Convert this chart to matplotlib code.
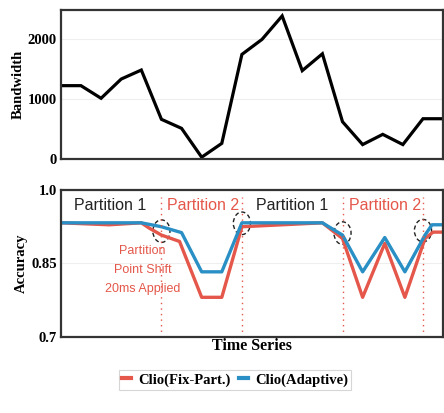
import matplotlib.pyplot as plt
from matplotlib.patches import Ellipse

# bandwidth trace, one sample per step
bw_x = list(range(20))
bw = [1220, 1220, 1010, 1330, 1480, 660, 510, 30, 260, 1740,
      1990, 2380, 1470, 1750, 620, 240, 410, 240, 670, 670]

# accuracy traces
fix_x = [0, 1.2, 2.4, 4, 4.4, 5, 5.9, 7, 8, 9, 13, 14, 15, 16.1, 17.1, 18.1, 18.5, 19]
fix_acc = [0.933, 0.931, 0.929, 0.933, 0.922, 0.908, 0.895, 0.781, 0.781, 0.925,
           0.933, 0.901, 0.781, 0.891, 0.781, 0.901, 0.914, 0.914]
ada_x = [0, 4, 5, 6, 7, 8, 9, 13, 14, 15, 16.1, 17.1, 18.1, 18.45, 19]
ada_acc = [0.933, 0.933, 0.925, 0.913, 0.833, 0.833, 0.933, 0.933, 0.908, 0.833,
           0.903, 0.833, 0.908, 0.929, 0.929]

shift_x = [5, 9, 14, 18]
shift_y = [0.916, 0.932, 0.912, 0.917]

part_labels = ["Partition 1", "Partition 2", "Partition 1", "Partition 2"]
part_x = [2.45, 7.05, 11.5, 16.1]

RED = "#e4574a"
BLUE = "#2a8fc4"
FRAME = "#333333"
serif = "Liberation Serif"
sans = "Liberation Sans"

fig = plt.figure(figsize=(4.44, 4.13), dpi=100)
ax1 = fig.add_axes([0.137, 0.615, 0.861, 0.361])
ax2 = fig.add_axes([0.137, 0.184, 0.861, 0.356])

# top: bandwidth
ax1.plot(bw_x, bw, color="black", lw=2.3, solid_joinstyle="miter")
ax1.set_xlim(0, 19)
ax1.set_ylim(0, 2480)
ax1.set_yticks([0, 1000, 2000])
ax1.set_ylabel("Bandwidth", family=serif, fontweight="bold", fontsize=10.5, labelpad=2)

# bottom: accuracy
ax2.plot(fix_x, fix_acc, color=RED, lw=2.4, label="Clio(Fix-Part.)")
ax2.plot(ada_x, ada_acc, color=BLUE, lw=2.4, label="Clio(Adaptive)")
for x in shift_x:
    ax2.plot([x, x], [0.7, 0.985], color=RED, lw=1.0, ls=(0, (1, 3)))
for x, y in zip(shift_x, shift_y):
    ax2.add_patch(Ellipse((x, y), 0.85, 0.046, fill=False, ec="#222222",
                          lw=1.0, ls=(0, (3, 2))))
for x, t in zip(part_x, part_labels):
    ax2.text(x, 0.969, t, ha="center", va="center", family=sans, fontsize=11.5,
             color="#222222" if t.endswith("1") else RED)
ax2.text(4.05, 0.837, "Partition\nPoint Shift\n20ms Applied", ha="center",
         va="center", family=sans, fontsize=9, color=RED, linespacing=1.75)
ax2.set_xlim(0, 19)
ax2.set_ylim(0.7, 1.0)
ax2.set_yticks([0.7, 0.85, 1.0])
ax2.set_yticklabels(["0.7", "0.85", "1.0"])
ax2.set_ylabel("Accuracy", family=serif, fontweight="bold", fontsize=10.5, labelpad=2)
ax2.set_xlabel("Time Series", family=serif, fontweight="bold", fontsize=11.5, labelpad=1)

for ax in (ax1, ax2):
    ax.set_xticks([])
    ax.tick_params(axis="y", length=0, pad=3)
    for lbl in ax.get_yticklabels():
        lbl.set_family(serif)
        lbl.set_fontweight("bold")
        lbl.set_fontsize(10.5)
    ax.grid(axis="y", color="#eeeeee", lw=0.8)
    ax.set_axisbelow(True)
    for s in ax.spines.values():
        s.set_color(FRAME)
        s.set_linewidth(1.6)

leg = fig.legend(*ax2.get_legend_handles_labels(), loc="center",
                 bbox_to_anchor=(0.529, 0.080), ncol=2, frameon=True,
                 handlelength=0.6, handletextpad=0.5, columnspacing=0.6,
                 fancybox=False, borderpad=0.2,
                 prop={"family": serif, "weight": "bold", "size": 10.5})
leg.get_frame().set_edgecolor("#cccccc")
leg.get_frame().set_linewidth(0.8)
for h in leg.get_lines():
    h.set_linewidth(3)

fig.savefig("out.png", dpi=100)
